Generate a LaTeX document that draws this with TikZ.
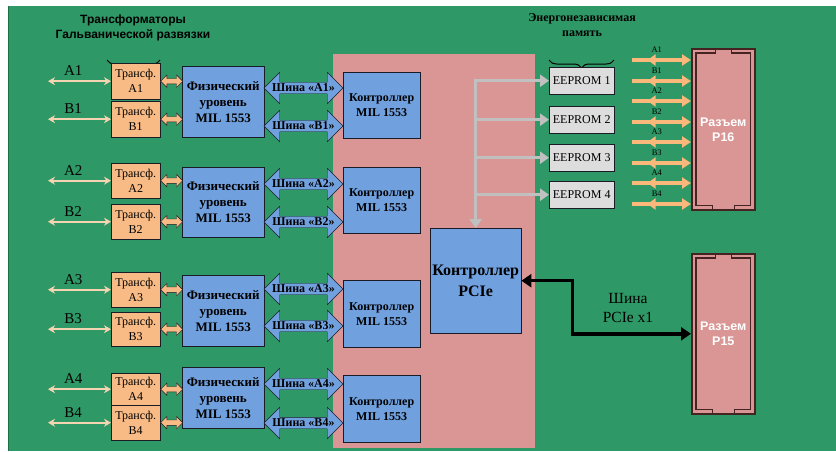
\documentclass[tikz,border=0pt]{standalone}
\usepackage{fontspec}
\setmainfont{Liberation Serif}
\setsansfont{Liberation Sans}
\usetikzlibrary{arrows.meta,shapes.arrows,positioning,calc,decorations.pathreplacing,decorations.markings}
\definecolor{board}{RGB}{46,152,102}
\definecolor{boardedge}{RGB}{30,110,70}
\definecolor{zone}{RGB}{217,150,148}
\definecolor{blk}{RGB}{112,160,222}
\definecolor{trf}{RGB}{249,187,133}
\definecolor{eepgray}{RGB}{221,221,221}
\definecolor{gline}{RGB}{192,192,192}
\definecolor{pinc}{RGB}{250,184,122}
\definecolor{wirec}{RGB}{246,212,178}
\definecolor{edge}{RGB}{25,28,38}
\definecolor{slot}{RGB}{70,35,35}
% inner outline of a connector, with the two key notches
\newcommand\slotline[1]{\draw[slot,line width=1.2pt] ($(#1.north west)+(5,5)$) -- ($(#1.north)+(-8,5)$) -- ($(#1.north)+(-8,1.5)$) -- ($(#1.north)+(8,1.5)$) -- ($(#1.north)+(8,5)$) -- ($(#1.north east)+(-5,5)$) -- ($(#1.south east)+(-5,-5)$) -- ($(#1.south)+(11,-5)$) -- ($(#1.south)+(11,-1.5)$) -- ($(#1.south)+(-11,-1.5)$) -- ($(#1.south)+(-11,-5)$) -- ($(#1.south west)+(5,-5)$) -- cycle;}
\begin{document}
\begin{tikzpicture}[x=1pt,y=-1pt,
 trans/.style={draw=edge,fill=trf,anchor=north west,minimum width=49pt,minimum height=35pt,inner sep=0pt,align=center,font=\fontsize{12}{15}\selectfont},
 phys/.style={draw=edge,fill=blk,anchor=north west,minimum width=82pt,minimum height=71pt,inner sep=0pt,align=center,font=\bfseries\fontsize{13}{16}\selectfont},
 ctrl/.style={draw=edge,fill=blk,anchor=north west,minimum width=77pt,minimum height=66pt,inner sep=0pt,align=center,font=\bfseries\fontsize{12}{15}\selectfont},
 bus/.style={double arrow,draw=edge,fill=blk,minimum height=79pt,double arrow head extend=10pt,inner xsep=0pt,inner ysep=1.5pt,font=\bfseries\fontsize{12}{12}\selectfont},
 link/.style={double arrow,draw=edge,fill=trf,minimum height=22pt,double arrow head extend=3.5pt,inner xsep=0pt,inner ysep=2.5pt},
 wire/.style={draw=wirec,line width=1.8pt,{Stealth[length=7pt,width=8pt]}-{Stealth[length=7pt,width=8pt]}},
 wlbl/.style={above=1pt,font=\fontsize{15}{15}\selectfont},
 eeprom/.style={draw=edge,fill=eepgray,anchor=north west,minimum width=65pt,minimum height=27pt,inner sep=0pt,font=\fontsize{12}{14}\selectfont},
 garrow/.style={draw=gline,line width=3.5pt,line cap=rect,-{Triangle[length=9pt,width=12pt]}},
 pin/.style={color=pinc,line width=3.5pt,-{Triangle[length=9pt,width=11pt]},postaction={decorate},
   decoration={markings,mark=at position 0.4 with {\arrow{Triangle[reversed,length=8pt,width=11pt]}}}},
 pinlbl/.style={above=2pt,text=black,font=\fontsize{8.5}{9}\selectfont},
 conn/.style={draw=slot,line width=1.6pt,fill=zone,anchor=north west,minimum width=63pt,inner sep=0pt,align=center,text=white,font=\sffamily\bfseries\fontsize{12.5}{15}\selectfont},
 pbus/.style={draw=black,line width=3.5pt,{Triangle[length=10pt,width=13pt]}-{Triangle[length=10pt,width=13pt]}},
 brace/.style={decorate,decoration={brace,amplitude=8pt},draw=black,line width=1pt}]
\useasboundingbox (0,0) rectangle (836,451);
\fill[board] (8,6) rectangle (836,451);
\draw[boardedge,line width=1.2pt] (8.6,6) -- (8.6,451);
\fill[zone] (333,54) rectangle (535,448);

% titles
\node[font=\sffamily\bfseries\fontsize{12}{15}\selectfont,align=center] (trttl) at (133,28) {Трансформаторы\\Гальванической развязки};
\draw[brace] (160,60) -- (107,60);
\node[font=\bfseries\fontsize{12}{15}\selectfont,align=center] (memttl) at (582,25) {Энергонезависимая\\память};
\draw[brace] (614,60) -- (549,60);

% group 1
\node[trans,minimum height=36pt] (trA1) at (111,63) {Трансф.\\A1};
\node[trans,minimum height=36pt] (trB1) at (111,101) {Трансф.\\B1};
\node[phys] (phy1) at (182,66) {Физический\\уровень\\MIL 1553};
\node[ctrl] (mil1) at (343,72) {Контроллер\\MIL 1553};
\node[bus] (busA1) at (303.5,88) {\makebox[40pt]{Шина «A1»}};
\node[bus] (busB1) at (303.5,126) {\makebox[40pt]{Шина «B1»}};
\node[link,right=0pt of trA1] (lkA1) {};
\node[link,right=0pt of trB1] (lkB1) {};
\draw[wire] (trA1.west) -- ++(-63,0) node[pos=0.6,wlbl] (inA1) {A1};
\draw[wire] (trB1.west) -- ++(-63,0) node[pos=0.6,wlbl] (inB1) {B1};

% group 2
\node[trans] (trA2) at (111,163) {Трансф.\\A2};
\node[trans] (trB2) at (111,204) {Трансф.\\B2};
\node[phys,minimum height=70pt] (phy2) at (182,167) {Физический\\уровень\\MIL 1553};
\node[ctrl] (mil2) at (343,167) {Контроллер\\MIL 1553};
\node[bus] (busA2) at (303.5,184) {\makebox[40pt]{Шина «A2»}};
\node[bus] (busB2) at (303.5,222) {\makebox[40pt]{Шина «B2»}};
\node[link,right=0pt of trA2] (lkA2) {};
\node[link,right=0pt of trB2] (lkB2) {};
\draw[wire] (trA2.west) -- ++(-63,0) node[pos=0.6,wlbl] (inA2) {A2};
\draw[wire] (trB2.west) -- ++(-63,0) node[pos=0.6,wlbl] (inB2) {B2};

% group 3
\node[trans] (trA3) at (111,272) {Трансф.\\A3};
\node[trans,minimum height=34pt] (trB3) at (111,312) {Трансф.\\B3};
\node[phys] (phy3) at (182,275) {Физический\\уровень\\MIL 1553};
\node[ctrl,minimum height=67pt] (mil3) at (343,280) {Контроллер\\MIL 1553};
\node[bus] (busA3) at (303.5,289) {\makebox[40pt]{Шина «A3»}};
\node[bus] (busB3) at (303.5,326) {\makebox[40pt]{Шина «B3»}};
\node[link,right=0pt of trA3] (lkA3) {};
\node[link,right=0pt of trB3] (lkB3) {};
\draw[wire] (trA3.west) -- ++(-63,0) node[pos=0.6,wlbl] (inA3) {A3};
\draw[wire] (trB3.west) -- ++(-63,0) node[pos=0.6,wlbl] (inB3) {B3};

% group 4
\node[trans,minimum height=32pt] (trA4) at (111,373) {Трансф.\\A4};
\node[trans] (trB4) at (111,405) {Трансф.\\B4};
\node[phys,minimum height=61pt] (phy4) at (182,367) {Физический\\уровень\\MIL 1553};
\node[ctrl,minimum height=67pt] (mil4) at (343,375) {Контроллер\\MIL 1553};
\node[bus] (busA4) at (303.5,384) {\makebox[40pt]{Шина «A4»}};
\node[bus] (busB4) at (303.5,423) {\makebox[40pt]{Шина «B4»}};
\node[link,right=0pt of trA4] (lkA4) {};
\node[link,right=0pt of trB4] (lkB4) {};
\draw[wire] (trA4.west) -- ++(-63,0) node[pos=0.6,wlbl] (inA4) {A4};
\draw[wire] (trB4.west) -- ++(-63,0) node[pos=0.6,wlbl] (inB4) {B4};

% memory and pcie
\node[eeprom] (ee1) at (549,67) {EEPROM 1};
\node[eeprom] (ee2) at (549,106) {EEPROM 2};
\node[eeprom] (ee3) at (549,144) {EEPROM 3};
\node[eeprom] (ee4) at (549,181) {EEPROM 4};
\node[ctrl,minimum width=91pt,minimum height=105pt,font=\bfseries\fontsize{16}{21}\selectfont] (pcie) at (430,228) {Контроллер\\PCIe};
\coordinate (split) at (pcie.north |- ee1.west);
\draw[garrow] (split) -- (pcie.north);
\draw[garrow] (split) -- (ee1.west);
\draw[garrow] (split |- ee2.west) -- (ee2.west);
\draw[garrow] (split |- ee3.west) -- (ee3.west);
\draw[garrow] (split |- ee4.west) -- (ee4.west);

% connectors
\node[conn,minimum height=161pt] (p16) at (691,48) {Разъем\\P16};
\slotline{p16}
\node[conn,minimum height=160pt] (p15) at (691,253) {Разъем\\P15};
\slotline{p15}
\draw[pin] (632,60) coordinate (pA1) -- (pA1 -| p16.west) node[pos=0.42,pinlbl] (plA1) {A1};
\draw[pin] (632,81) coordinate (pB1) -- (pB1 -| p16.west) node[pos=0.42,pinlbl] (plB1) {B1};
\draw[pin] (632,101) coordinate (pA2) -- (pA2 -| p16.west) node[pos=0.42,pinlbl] (plA2) {A2};
\draw[pin] (632,122) coordinate (pB2) -- (pB2 -| p16.west) node[pos=0.42,pinlbl] (plB2) {B2};
\draw[pin] (632,142) coordinate (pA3) -- (pA3 -| p16.west) node[pos=0.42,pinlbl] (plA3) {A3};
\draw[pin] (632,163) coordinate (pB3) -- (pB3 -| p16.west) node[pos=0.42,pinlbl] (plB3) {B3};
\draw[pin] (632,183) coordinate (pA4) -- (pA4 -| p16.west) node[pos=0.42,pinlbl] (plA4) {A4};
\draw[pin] (632,204) coordinate (pB4) -- (pB4 -| p16.west) node[pos=0.42,pinlbl] (plB4) {B4};

\draw[pbus] (pcie.east) -- ++(51,0) |- (p15.west);
\node[font=\fontsize{15.5}{19}\selectfont,align=center] (pcielbl) at (628,308) {Шина\\PCIe x1};
\end{tikzpicture}
\end{document}
